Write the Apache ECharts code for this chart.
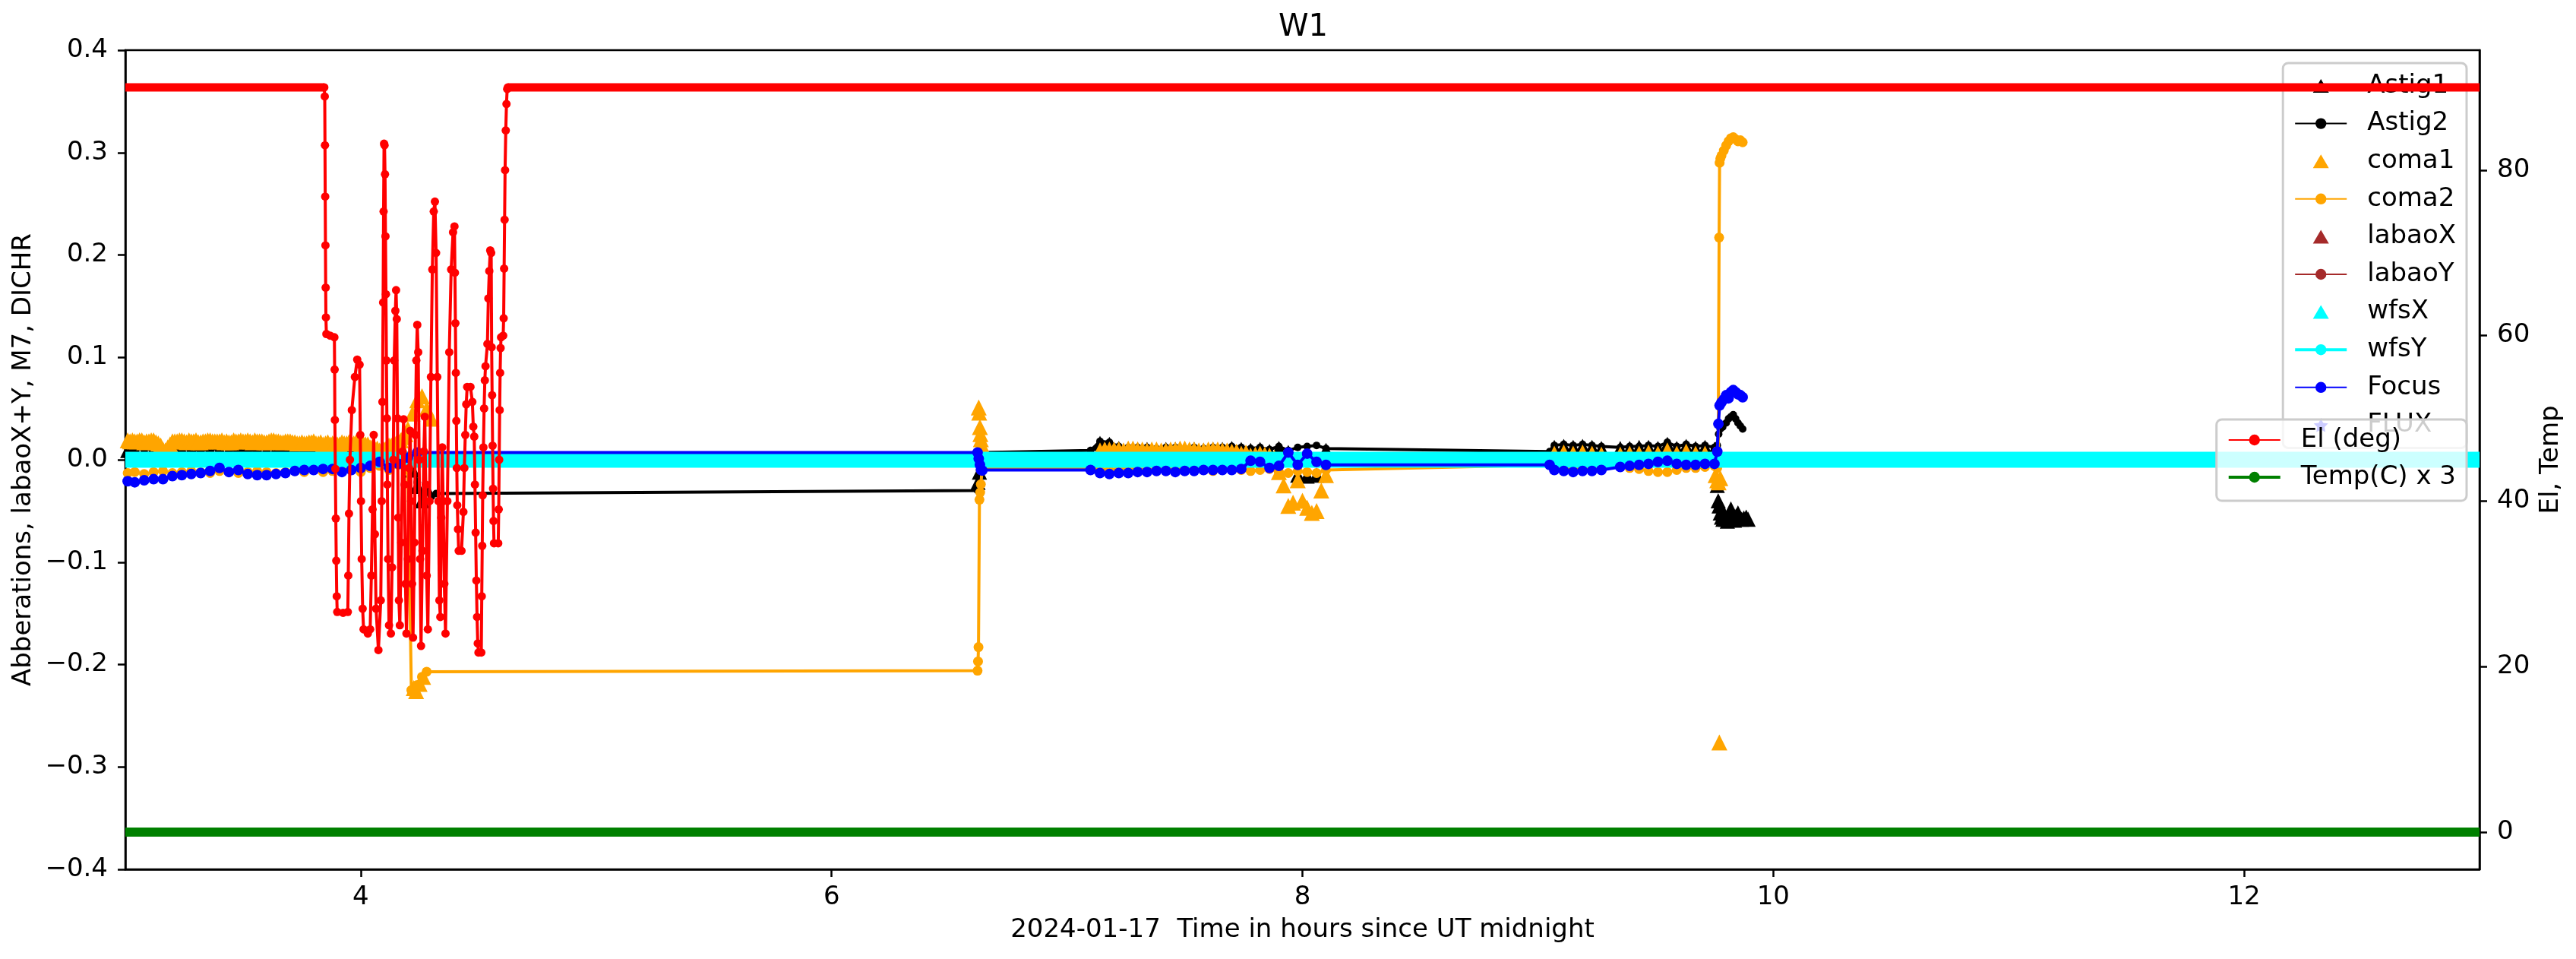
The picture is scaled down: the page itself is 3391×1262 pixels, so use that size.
<!DOCTYPE html>
<html>
<head>
<meta charset="utf-8">
<title>W1</title>
<script src="https://cdn.jsdelivr.net/npm/echarts@6.0.0/dist/echarts.min.js"></script>
<style>
  html, body { margin: 0; padding: 0; background: #fff; }
  #chart { width: 3391px; height: 1262px; }
</style>
</head>
<body>
<div id="chart"></div>
<script>
// time bases (hours since UT midnight) of the dense stretches
var tA = [3.01, 3.04, 3.08, 3.12, 3.16, 3.20, 3.24, 3.28, 3.32, 3.36, 3.40, 3.44, 3.48, 3.52, 3.56, 3.60,
  3.64, 3.68, 3.72, 3.76, 3.80, 3.84, 3.88, 3.92, 3.96, 4.00, 4.04, 4.08, 4.12, 4.16, 4.20];
var tA2 = [3.02, 3.06, 3.10, 3.14, 3.18, 3.22, 3.26, 3.30, 3.34, 3.38, 3.42, 3.46, 3.50, 3.54, 3.58, 3.62,
  3.66, 3.70, 3.74, 3.78, 3.82, 3.86, 3.90, 3.94, 3.98, 4.02, 4.06, 4.10, 4.14, 4.18];
var tA3 = [3.03, 3.05, 3.07, 3.09, 3.11, 3.13, 3.15, 3.17, 3.19, 3.21, 3.23, 3.25, 3.27, 3.29, 3.31, 3.33,
  3.35, 3.37, 3.39, 3.41, 3.43, 3.45, 3.47, 3.49, 3.51, 3.53, 3.55, 3.57, 3.59, 3.61, 3.63, 3.65, 3.67,
  3.69, 3.71, 3.73, 3.75, 3.77, 3.79, 3.81, 3.83, 3.85, 3.87, 3.89, 3.91, 3.93, 3.95, 3.97, 3.99, 4.01,
  4.03, 4.05, 4.07, 4.09, 4.11, 4.13, 4.15, 4.17, 4.19];
var tB = [7.14, 7.18, 7.22, 7.26, 7.30, 7.34, 7.38, 7.42, 7.46, 7.50, 7.54, 7.58, 7.62, 7.66, 7.70,
  7.74, 7.78, 7.82, 7.86, 7.90, 7.94, 7.98, 8.02, 8.06, 8.10];
var tB2 = [7.16, 7.20, 7.24, 7.28, 7.32, 7.36, 7.40, 7.44, 7.48, 7.52, 7.56, 7.60, 7.64, 7.68, 7.72,
  7.76, 7.80, 7.84, 7.88, 7.92, 7.96, 8.00, 8.04, 8.08];
var tC = [9.07, 9.11, 9.15, 9.19, 9.23, 9.27];
var tD = [9.35, 9.39, 9.43, 9.47, 9.51, 9.55, 9.59, 9.63, 9.67, 9.71, 9.75];

// Focus
var focusA = [-0.021, -0.022, -0.020, -0.019, -0.019, -0.016, -0.015, -0.014, -0.013, -0.011, -0.008, -0.012,
  -0.010, -0.014, -0.015, -0.015, -0.014, -0.013, -0.011, -0.010, -0.010, -0.009, -0.009, -0.012, -0.010,
  -0.008, -0.006, -0.002, -0.008, -0.004, 0.002];
var focusMid1 = [[4.24, 0.007], [6.62, 0.007], [6.625, 0.001], [6.63, -0.005], [6.635, -0.010], [6.64, -0.0105], [7.10, -0.010]];
var focusB = [-0.013, -0.014, -0.013, -0.013, -0.012, -0.012, -0.011, -0.011, -0.012, -0.011, -0.011, -0.010,
  -0.010, -0.010, -0.010, -0.009, -0.001, -0.002, -0.008, -0.006, 0.007, -0.005, 0.006, -0.002, -0.005];
var focusMid2 = [[9.05, -0.005]];
var focusC = [-0.010, -0.011, -0.012, -0.011, -0.011, -0.010];
var focusD = [-0.007, -0.006, -0.005, -0.004, -0.002, -0.001, -0.004, -0.005, -0.005, -0.004, -0.004];
var focusEnd = [[9.762, 0.008], [9.767, 0.035], [9.772, 0.053], [9.78, 0.056], [9.79, 0.059], [9.80, 0.063],
  [9.81, 0.060], [9.82, 0.066], [9.83, 0.068], [9.84, 0.066], [9.85, 0.064], [9.86, 0.063], [9.87, 0.061]];

// Astig2
var astig2A = [0.011, 0.010, 0.011, 0.009, 0.010, 0.010, 0.011, 0.010, 0.009, 0.010, 0.011, 0.010, 0.010,
  0.009, 0.010, 0.011, 0.010, 0.009, 0.010, 0.010, 0.009, 0.010, 0.009, 0.010, 0.011, 0.009, 0.010, 0.010,
  0.009, 0.008, 0.004];
var astig2Mid1 = [[4.22, -0.005], [4.24, -0.022], [4.26, -0.035], [4.28, -0.030], [4.30, -0.036], [4.32, -0.033],
  [6.62, -0.030], [6.623, -0.024], [6.626, -0.016], [6.629, -0.010], [6.632, -0.004], [6.64, 0.007], [7.10, 0.009]];
var astig2B = [0.018, 0.017, 0.013, 0.012, 0.012, 0.012, 0.011, 0.012, 0.012, 0.011, 0.012, 0.011, 0.012,
  0.012, 0.013, 0.012, 0.011, 0.012, 0.010, 0.013, 0.009, 0.012, 0.013, 0.014, 0.011];
var astig2Mid2 = [[9.05, 0.008]];
var astig2C = [0.014, 0.015, 0.014, 0.015, 0.014, 0.013];
var astig2D = [0.012, 0.013, 0.013, 0.014, 0.013, 0.017, 0.013, 0.015, 0.013, 0.014, 0.012];
var astig2End = [[9.762, 0.014], [9.768, 0.025], [9.775, 0.030], [9.785, 0.032], [9.80, 0.036], [9.81, 0.040],
  [9.82, 0.042], [9.83, 0.044], [9.84, 0.040], [9.85, 0.036], [9.86, 0.033], [9.87, 0.030]];

// Astig1
var astig1A = [0.009, 0.010, 0.008, 0.010, 0.009, 0.011, 0.009, 0.010, 0.008, 0.009, 0.010, 0.009, 0.011,
  0.009, 0.010, 0.009, 0.010, 0.011, 0.009, 0.010, 0.010, 0.009, 0.010, 0.008, 0.009, 0.010, 0.009, 0.008,
  0.010, 0.006, 0.000];
var astig1Mid1 = [[4.22, -0.010], [4.24, -0.026], [4.26, -0.040], [4.28, -0.028], [6.622, -0.022], [6.628, -0.012]];
var astig1B = [0.016, 0.015, 0.011, 0.010, 0.010, 0.010, 0.009, 0.010, 0.010, 0.009, 0.010, 0.009, 0.010,
  0.010, 0.011, 0.010, 0.009, 0.010, 0.008, 0.011, 0.007, -0.015, -0.016, -0.015, 0.009];
var astig1C = [0.012, 0.013, 0.012, 0.013, 0.012, 0.011];
var astig1D = [0.011, 0.011, 0.012, 0.012, 0.011, 0.015, 0.011, 0.013, 0.011, 0.012, 0.010];
var astig1End = [[9.762, -0.025], [9.766, -0.040], [9.770, -0.045], [9.775, -0.052], [9.780, -0.056],
  [9.786, -0.058], [9.792, -0.053], [9.798, -0.058], [9.805, -0.060], [9.812, -0.056], [9.820, -0.048],
  [9.827, -0.054], [9.835, -0.059], [9.842, -0.055], [9.850, -0.052], [9.858, -0.056], [9.866, -0.058],
  [9.875, -0.057], [9.885, -0.056], [9.893, -0.058]];

// coma1
var coma1A = [0.019, 0.018, 0.017, 0.019, 0.010, 0.018, 0.019, 0.018, 0.017, 0.019, 0.018, 0.017, 0.018,
  0.019, 0.018, 0.017, 0.018, 0.018, 0.017, 0.016, 0.018, 0.015, 0.016, 0.017, 0.016, 0.014, 0.012, 0.009,
  0.014, 0.018, 0.030];
var coma1A2 = [0.018, 0.019, 0.018, 0.016, 0.012, 0.018, 0.017, 0.019, 0.018, 0.018, 0.017, 0.019, 0.018,
  0.017, 0.018, 0.019, 0.017, 0.018, 0.016, 0.017, 0.016, 0.017, 0.015, 0.016, 0.017, 0.015, 0.011, 0.010,
  0.016, 0.022];
var coma1A3 = [0.019, 0.018, 0.019, 0.018, 0.019, 0.017, 0.014, 0.009, 0.015, 0.018,
  0.019, 0.018, 0.019, 0.018, 0.017, 0.018, 0.019, 0.018, 0.018, 0.019,
  0.018, 0.017, 0.018, 0.019, 0.018, 0.018, 0.019, 0.018, 0.017, 0.018,
  0.019, 0.018, 0.017, 0.018, 0.017, 0.016, 0.017, 0.016, 0.017, 0.016,
  0.017, 0.016, 0.015, 0.016, 0.015, 0.016, 0.017, 0.016, 0.017, 0.016,
  0.015, 0.013, 0.011, 0.010, 0.012, 0.014, 0.016, 0.019, 0.025];
var coma1Mid1 = [[4.22, 0.045], [4.225, -0.223], [4.235, -0.226], [4.24, 0.058], [4.25, -0.219], [4.26, 0.062],
  [4.265, -0.212], [4.28, 0.050], [4.30, 0.040], [6.625, 0.051], [6.627, 0.046], [6.630, 0.032],
  [6.632, 0.025], [6.634, 0.020], [6.636, 0.015]];
var coma1B = [0.009, 0.010, 0.010, 0.011, 0.010, 0.009, 0.010, 0.009, 0.010, 0.011, 0.010, 0.009, 0.010,
  0.009, 0.008, 0.006, 0.004, 0.006, 0.004, -0.012, -0.045, -0.020, -0.047, -0.050, -0.015];
var coma1B2 = [0.010, 0.010, 0.009, 0.011, 0.010, 0.010, 0.009, 0.010, 0.011, 0.010, 0.009, 0.010, 0.010,
  0.009, 0.008, 0.007, 0.005, 0.005, 0.002, -0.025, -0.042, -0.040, -0.052, -0.030];
var coma1C = [0.006, 0.007, 0.006, 0.007, 0.006, 0.005];
var coma1D = [0.005, 0.006, 0.006, 0.007, 0.006, 0.009, 0.006, 0.008, 0.006, 0.006, 0.005];
var coma1End = [[9.755, -0.015], [9.762, -0.020], [9.768, -0.022], [9.771, -0.276], [9.775, -0.018]];

// coma2
var coma2A = [-0.013, -0.012, -0.014, -0.012, -0.011, -0.013, -0.012, -0.011, -0.012, -0.013, -0.011, -0.012,
  -0.013, -0.012, -0.011, -0.012, -0.013, -0.012, -0.011, -0.012, -0.010, -0.012, -0.011, -0.009, -0.010,
  -0.012, -0.008, -0.006, -0.010, -0.005, -0.010];
var coma2Mid1 = [[4.215, -0.225], [4.225, -0.224], [4.24, -0.220], [4.26, -0.212], [4.28, -0.207],
  [6.62, -0.206], [6.622, -0.197], [6.624, -0.183], [6.628, -0.039], [6.631, -0.032], [6.634, -0.024],
  [6.64, -0.008], [7.10, -0.008]];
var coma2B = [-0.009, -0.010, -0.009, -0.008, -0.009, -0.010, -0.009, -0.008, -0.009, -0.008, -0.009, -0.010,
  -0.011, -0.010, -0.009, -0.010, -0.011, -0.010, -0.009, -0.012, -0.013, -0.011, -0.012, -0.013, -0.010];
var coma2Mid2 = [[9.05, -0.005]];
var coma2C = [-0.008, -0.009, -0.008, -0.009, -0.008, -0.008];
var coma2D = [-0.007, -0.008, -0.009, -0.011, -0.012, -0.012, -0.010, -0.008, -0.008, -0.007, -0.006];
var coma2End = [[9.762, -0.008], [9.766, 0.005], [9.770, 0.217], [9.772, 0.290], [9.775, 0.294], [9.78, 0.297],
  [9.79, 0.302], [9.80, 0.307], [9.81, 0.311], [9.82, 0.314], [9.83, 0.315], [9.84, 0.313], [9.85, 0.311],
  [9.86, 0.312], [9.87, 0.310]];

// labao / wfs / FLUX all sit on zero (hidden under the cyan band)
var labaoX = [[5.0, 0], [9.0, 0]];
var labaoY = [[3.5, 0], [12.5, 0]];
var wfsX = [[4.0, 0], [6.0, 0], [8.0, 0], [10.0, 0], [12.0, 0]];
var wfsY = [[3.0, 0], [13.0, 0]];
var flux = [];

// right axis: elevation (deg) and temperature x 3
var elSlew = [[3.845, 90], [3.847, 88.9], [3.848, 83.0], [3.849, 76.8], [3.850, 70.9], [3.851, 65.8], [3.852, 62.2],
  [3.854, 60.2], [3.870, 60.0], [3.888, 59.8], [3.889, 55.9], [3.890, 49.8], [3.892, 43.9], [3.894, 37.9],
  [3.896, 32.8], [3.898, 28.5], [3.900, 26.6], [3.925, 26.5], [3.945, 26.6], [3.947, 31.0], [3.950, 38.5],
  [3.954, 45.0], [3.962, 51.0], [3.975, 55.0], [3.985, 57.1], [3.995, 56.5], [3.998, 48.0], [4.001, 40.0],
  [4.004, 33.0], [4.008, 27.0], [4.012, 24.5], [4.030, 24.0], [4.040, 24.5], [4.045, 31.0], [4.050, 39.0],
  [4.055, 48.0], [4.060, 36.0], [4.065, 27.0], [4.075, 22.0], [4.085, 28.0], [4.089, 40.0], [4.092, 52.0],
  [4.095, 64.0], [4.097, 75.0], [4.099, 83.2], [4.101, 83.0], [4.103, 79.5], [4.105, 72.0], [4.107, 65.0],
  [4.109, 57.0], [4.111, 50.0], [4.113, 42.0], [4.116, 33.0], [4.120, 25.0], [4.128, 24.0], [4.133, 32.0],
  [4.138, 45.0], [4.142, 57.0], [4.147, 63.0], [4.150, 65.5], [4.153, 62.0], [4.156, 50.0], [4.159, 38.0],
  [4.162, 28.0], [4.166, 25.0], [4.172, 35.0], [4.178, 46.0], [4.182, 49.9], [4.186, 42.0], [4.190, 30.0],
  [4.194, 24.0], [4.200, 33.0], [4.205, 44.0], [4.210, 48.5], [4.214, 40.0], [4.218, 30.0], [4.222, 23.5],
  [4.228, 35.0], [4.232, 48.0], [4.236, 57.0], [4.240, 61.3], [4.244, 58.0], [4.248, 45.0], [4.252, 33.0],
  [4.256, 22.5], [4.262, 34.0], [4.268, 46.0], [4.272, 50.2], [4.276, 42.0], [4.280, 31.0], [4.285, 24.5],
  [4.292, 40.0], [4.298, 55.0], [4.304, 68.0], [4.310, 75.0], [4.315, 76.2], [4.320, 70.0], [4.325, 55.0],
  [4.330, 40.0], [4.334, 28.0], [4.338, 26.0], [4.342, 38.0], [4.346, 46.5], [4.350, 40.0], [4.355, 30.0],
  [4.360, 24.0], [4.368, 40.0], [4.376, 58.0], [4.384, 68.0], [4.392, 72.5], [4.398, 73.2], [4.400, 67.6],
  [4.402, 61.5], [4.404, 55.5], [4.406, 49.7], [4.408, 44.0], [4.410, 39.5], [4.413, 36.6], [4.416, 34.0],
  [4.428, 34.0], [4.436, 38.7], [4.440, 44.0], [4.444, 48.0], [4.448, 51.7], [4.452, 53.8], [4.466, 53.8],
  [4.474, 52.0], [4.478, 49.0], [4.482, 47.8], [4.485, 42.0], [4.488, 36.2], [4.491, 30.4], [4.494, 26.0],
  [4.497, 22.8], [4.500, 21.7], [4.512, 21.7], [4.514, 28.5], [4.516, 34.6], [4.518, 40.7], [4.521, 46.5],
  [4.524, 51.2], [4.527, 54.6], [4.530, 56.3], [4.538, 59.0], [4.542, 64.5], [4.546, 67.8], [4.550, 70.3],
  [4.554, 70.0], [4.556, 58.6], [4.558, 52.8], [4.560, 46.7], [4.562, 41.5], [4.564, 37.6], [4.566, 34.9],
  [4.584, 34.9], [4.586, 39.0], [4.588, 45.0], [4.590, 51.0], [4.592, 55.5], [4.594, 58.5], [4.596, 59.8],
  [4.605, 60.0], [4.607, 62.1], [4.609, 68.1], [4.611, 74.0], [4.613, 80.0], [4.616, 84.8], [4.619, 88.0],
  [4.622, 89.8], [4.625, 90]];
var elTrack = [[3.0, 90], [3.845, 90], [4.2, '-'], [4.625, 90], [13.0, 90]];
var tempC3 = [[3.0, 0], [13.0, 0]];

// tick labels
var xTicks = [4, 6, 8, 10, 12];
var rightTicks = [0, 20, 40, 60, 80];

function pairs(t, v) {
  return t.map(function (x, i) { return [x, v[i]]; });
}

var FONT = 'DejaVu Sans';
// legend handles drawn in a 68x18 box so the marker keeps its shape
var TRI_ICON = 'path://M0,0L0.001,0L0,0.001Z M68,18L67.999,18L68,17.999Z M23.5,18L34,0L44.5,18Z';
var STAR_ICON = 'path://M0,0L0.001,0L0,0.001Z M68,18L67.999,18L68,17.999Z ' +
  'M34,0L36.9,6L43.5,6.9L38.8,11.5L39.9,18L34,15L28.1,18L29.2,11.5L24.5,6.9L31.1,6Z';
var STAR = 'path://M0,-10L2.9,-4L9.5,-3.1L4.8,1.5L5.9,8.1L0,5L-5.9,8.1L-4.8,1.5L-9.5,-3.1L-2.9,-4Z';

var chart = echarts.init(document.getElementById('chart'), null, { renderer: 'canvas' });

var axisLineStyle = { color: '#000', width: 2.5 };

function lineSeries(name, data, color, size, z, extra) {
  var s = {
    name: name,
    type: 'line',
    data: data,
    symbol: 'circle',
    symbolSize: size,
    lineStyle: { color: color, width: 4 },
    itemStyle: { color: color },
    z: z,
    animation: false
  };
  for (var k in extra) s[k] = extra[k];
  return s;
}

function markerSeries(name, data, color, symbol, size, z) {
  return {
    name: name,
    type: 'scatter',
    data: data,
    symbol: symbol,
    symbolSize: size,
    itemStyle: { color: color, opacity: 1 },
    z: z,
    animation: false
  };
}

var legendText = { fontSize: 34, lineHeight: 34, color: '#000', fontFamily: FONT, padding: [0, 0, 0, 22] };

chart.setOption({
  animation: false,
  textStyle: { fontFamily: FONT },
  title: {
    text: 'W1',
    left: 1683,
    top: 17,
    padding: 0,
    textStyle: { fontSize: 40, fontWeight: 'normal', color: '#000', fontFamily: FONT }
  },
  grid: {
    left: 165, right: 127, top: 66, bottom: 118,
    show: true, borderColor: '#000', borderWidth: 2.5,
    containLabel: false, outerBoundsMode: 'none'
  },
  legend: [{
    orient: 'vertical',
    right: 144, top: 83,
    padding: [13, 14, 13, 14],
    itemWidth: 68, itemHeight: 18, itemGap: 15.6,
    backgroundColor: 'rgba(255,255,255,0.8)',
    borderColor: '#cccccc', borderWidth: 3, borderRadius: 7,
    selectedMode: false,
    z: 11,
    textStyle: legendText,
    data: [{ name: 'Astig1', icon: TRI_ICON }, 'Astig2', { name: 'coma1', icon: TRI_ICON }, 'coma2',
      { name: 'labaoX', icon: TRI_ICON }, 'labaoY', { name: 'wfsX', icon: TRI_ICON },
      { name: 'wfsY', lineStyle: { width: 4 } }, 'Focus', { name: 'FLUX', icon: STAR_ICON }]
  }, {
    orient: 'vertical',
    right: 144, top: 552,
    padding: [10, 14, 14, 14],
    itemWidth: 68, itemHeight: 18, itemGap: 15,
    backgroundColor: 'rgba(255,255,255,0.8)',
    borderColor: '#cccccc', borderWidth: 3, borderRadius: 7,
    selectedMode: false,
    z: 14,
    textStyle: legendText,
    data: ['El (deg)', { name: 'Temp(C) x 3', lineStyle: { width: 4 } }]
  }],
  xAxis: {
    type: 'value',
    min: 3, max: 13,
    name: '2024-01-17  Time in hours since UT midnight',
    nameLocation: 'middle',
    nameGap: 63,
    nameTextStyle: { fontSize: 34, color: '#000', fontFamily: FONT },
    axisLine: { show: true, onZero: false, lineStyle: axisLineStyle },
    axisTick: { show: true, length: 10, lineStyle: axisLineStyle, customValues: xTicks },
    axisLabel: { customValues: xTicks, fontSize: 34, color: '#000', margin: 20, fontFamily: FONT },
    splitLine: { show: false }
  },
  yAxis: [{
    type: 'value',
    position: 'left',
    min: -0.4, max: 0.4, interval: 0.1,
    name: 'Abberations, labaoX+Y, M7, DICHR',
    nameLocation: 'middle',
    nameRotate: 90,
    nameGap: 115,
    nameTextStyle: { fontSize: 34, color: '#000', fontFamily: FONT },
    axisLine: { show: true, onZero: false, lineStyle: axisLineStyle },
    axisTick: { show: true, length: 10, lineStyle: axisLineStyle },
    axisLabel: {
      fontSize: 34, color: '#000', margin: 23, fontFamily: FONT,
      formatter: function (v) {
        if (Math.abs(v) < 1e-9) return '0.0';
        return (v < 0 ? '\u2212' : '') + Math.abs(v).toFixed(1);
      }
    },
    splitLine: { show: false }
  }, {
    type: 'value',
    position: 'right',
    min: -4.5, max: 94.5,
    name: 'El, Temp',
    nameLocation: 'middle',
    nameRotate: 90,
    nameGap: 71,
    nameTextStyle: { fontSize: 34, color: '#000', fontFamily: FONT },
    axisLine: { show: true, onZero: false, lineStyle: axisLineStyle },
    axisTick: { show: true, length: 10, lineStyle: axisLineStyle, customValues: rightTicks },
    axisLabel: { customValues: rightTicks, fontSize: 34, color: '#000', margin: 23, fontFamily: FONT },
    splitLine: { show: false }
  }],
  series: [
    markerSeries('Astig1', [].concat(pairs(tA, astig1A), astig1Mid1, pairs(tB, astig1B), pairs(tC, astig1C),
      pairs(tD, astig1D), astig1End), '#000000', 'triangle', 20, 1),
    lineSeries('Astig2', [].concat(pairs(tA, astig2A), astig2Mid1, pairs(tB, astig2B), astig2Mid2,
      pairs(tC, astig2C), pairs(tD, astig2D), astig2End), '#000000', 10, 2),
    markerSeries('coma1', [].concat(pairs(tA, coma1A), pairs(tA2, coma1A2), pairs(tA3, coma1A3), coma1Mid1,
      pairs(tB, coma1B), pairs(tB2, coma1B2), pairs(tC, coma1C), pairs(tD, coma1D), coma1End),
      '#ffa500', 'triangle', 21, 3),
    lineSeries('coma2', [].concat(pairs(tA, coma2A), coma2Mid1, pairs(tB, coma2B), coma2Mid2,
      pairs(tC, coma2C), pairs(tD, coma2D), coma2End), '#ffa500', 13, 4),
    markerSeries('labaoX', labaoX, '#a52a2a', 'triangle', 20, 5),
    lineSeries('labaoY', labaoY, '#a52a2a', 11, 6),
    markerSeries('wfsX', wfsX, '#00ffff', 'triangle', 20, 7),
    lineSeries('wfsY', wfsY, '#00ffff', 11, 8, { symbol: 'none', lineStyle: { color: '#00ffff', width: 21 } }),
    lineSeries('Focus', [].concat(pairs(tA, focusA), focusMid1, pairs(tB, focusB), focusMid2,
      pairs(tC, focusC), pairs(tD, focusD), focusEnd), '#0000ff', 14, 9),
    markerSeries('FLUX', flux, '#0000ff', STAR, 20, 10),
    // twin (right) axis, drawn over the first legend
    lineSeries('El (deg)', elSlew, '#ff0000', 11, 12, { yAxisIndex: 1 }),
    lineSeries('El (deg)', elTrack, '#ff0000', 11, 12, { yAxisIndex: 1, symbol: 'none', connectNulls: false,
      lineStyle: { color: '#ff0000', width: 11 } }),
    lineSeries('Temp(C) x 3', tempC3, '#008000', 11, 13, { yAxisIndex: 1, symbol: 'none',
      lineStyle: { color: '#008000', width: 12 } })
  ]
});
</script>
</body>
</html>
